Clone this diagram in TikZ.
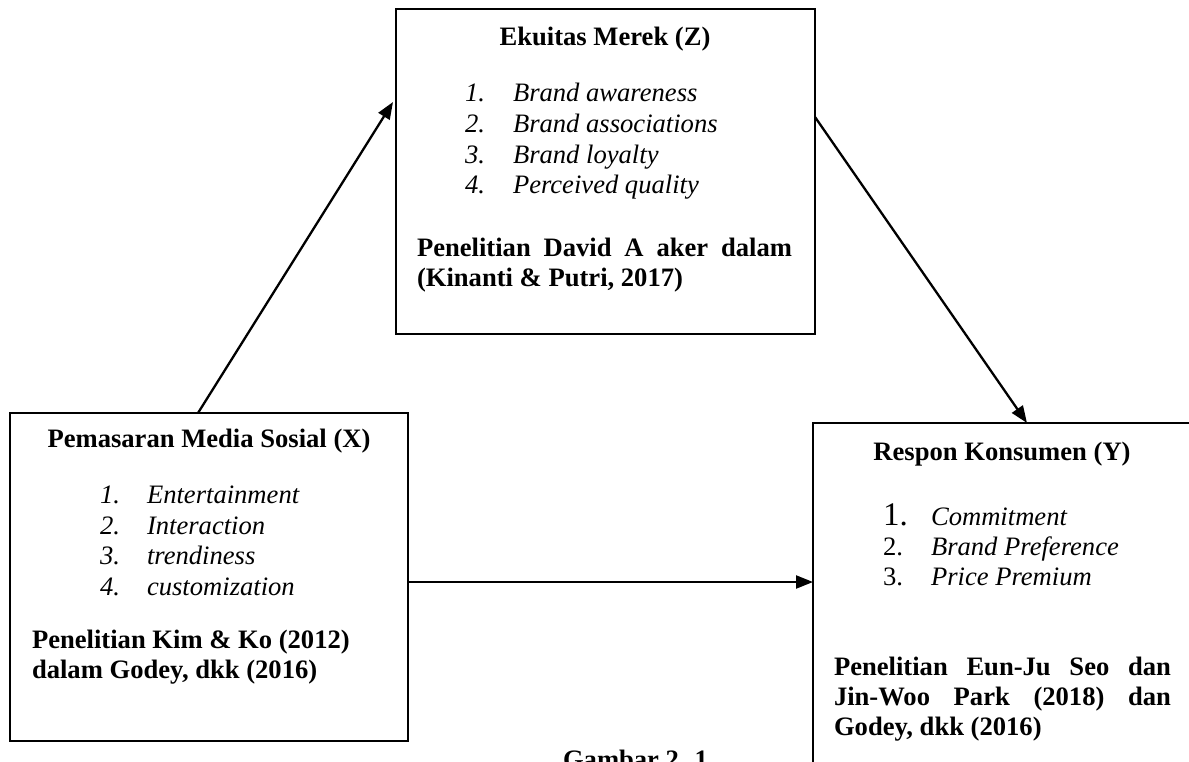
\documentclass[tikz,border=0pt]{standalone}
\usepackage{fontspec}
\setmainfont{Liberation Serif}
\usetikzlibrary{arrows.meta}
\begin{document}
\begin{tikzpicture}[x=1pt,y=-1pt]
\tikzset{
 frame/.style={draw=black, line width=2.6pt, inner sep=0pt, outer sep=0pt},
 txt/.style={anchor=base west, inner sep=0pt, outer sep=0pt, font=\fontsize{26.6}{30.6}\selectfont},
 ttl/.style={anchor=base, inner sep=0pt, font=\fontsize{26.6}{30.6}\selectfont\bfseries},
 bld/.style={txt, font=\fontsize{26.6}{30.6}\selectfont\bfseries},
 itm/.style={txt, font=\fontsize{26.6}{30.6}\selectfont\itshape},
 bignum/.style={txt, font=\fontsize{33}{36}\selectfont},
 arr/.style={line width=2.3pt, -{Triangle[length=17pt,width=13pt]}}
}
\useasboundingbox (0,0) rectangle (1189,761);
% boxes
\node[frame, minimum width=419pt, minimum height=325pt] (Z) at (605.5,171.5) {};
\node[frame, minimum width=398pt, minimum height=328pt] (X) at (209,577) {};
\node[frame, minimum width=392pt, minimum height=367pt] (Y) at (1009,606.5) {};
% Z texts
\node[ttl] (zt) at (605,45) {Ekuitas Merek (Z)};
\node[itm] (z1n) at (465,101) {1.};
\node[itm] (z1) at (513,101) {Brand awareness};
\node[itm] (z2n) at (465,132) {2.};
\node[itm] (z2) at (513,132) {Brand associations};
\node[itm] (z3n) at (465,163) {3.};
\node[itm] (z3) at (513,163) {Brand loyalty};
\node[itm] (z4n) at (465,193) {4.};
\node[itm] (z4) at (513,193) {Perceived quality};
\node[bld] (zr1) at (417,256) {\makebox[375pt][s]{Penelitian David A aker dalam}};
\node[bld] (zr2) at (417,286) {(Kinanti \& Putri, 2017)};
% X texts
\node[ttl] (xt) at (209,447) {Pemasaran Media Sosial (X)};
\node[itm] (x1n) at (100,503) {1.};
\node[itm] (x1) at (147,503) {Entertainment};
\node[itm] (x2n) at (100,534) {2.};
\node[itm] (x2) at (147,534) {Interaction};
\node[itm] (x3n) at (100,564) {3.};
\node[itm] (x3) at (147,564) {trendiness};
\node[itm] (x4n) at (100,595) {4.};
\node[itm] (x4) at (147,595) {customization};
\node[bld] (xr1) at (32,648) {Penelitian Kim \& Ko (2012)};
\node[bld] (xr2) at (32,678) {dalam Godey, dkk (2016)};
% Y texts
\node[ttl] (yt) at (1002,460) {Respon Konsumen (Y)};
\node[bignum] (y1n) at (883,525) {1.};
\node[itm] (y1) at (931,525) {Commitment};
\node[txt] (y2n) at (883,555) {2.};
\node[itm] (y2) at (931,555) {Brand Preference};
\node[txt] (y3n) at (883,585) {3.};
\node[itm] (y3) at (931,585) {Price Premium};
\node[bld] (yr1) at (834,675) {\makebox[337pt][s]{Penelitian Eun-Ju Seo dan}};
\node[bld] (yr2) at (834,705) {\makebox[337pt][s]{Jin-Woo Park (2018) dan}};
\node[bld] (yr3) at (834,735) {Godey, dkk (2016)};
% caption (cut off at the bottom, as in the reference)
\node[bld] (cap) at (563,768) {Gambar 2. 1};
% arrows
\coordinate (zin) at ([xshift=-3pt,yshift=-93pt]Z.north west);
\draw[arr] ([xshift=-11pt]X.north) -- (zin);
\draw[arr] ([yshift=54.5pt]Z.east) -- ([xshift=18pt]Y.north);
\draw[arr] ([yshift=-5pt]X.east) -- ([yshift=-5pt]X.east -| Y.west);
\end{tikzpicture}
\end{document}
